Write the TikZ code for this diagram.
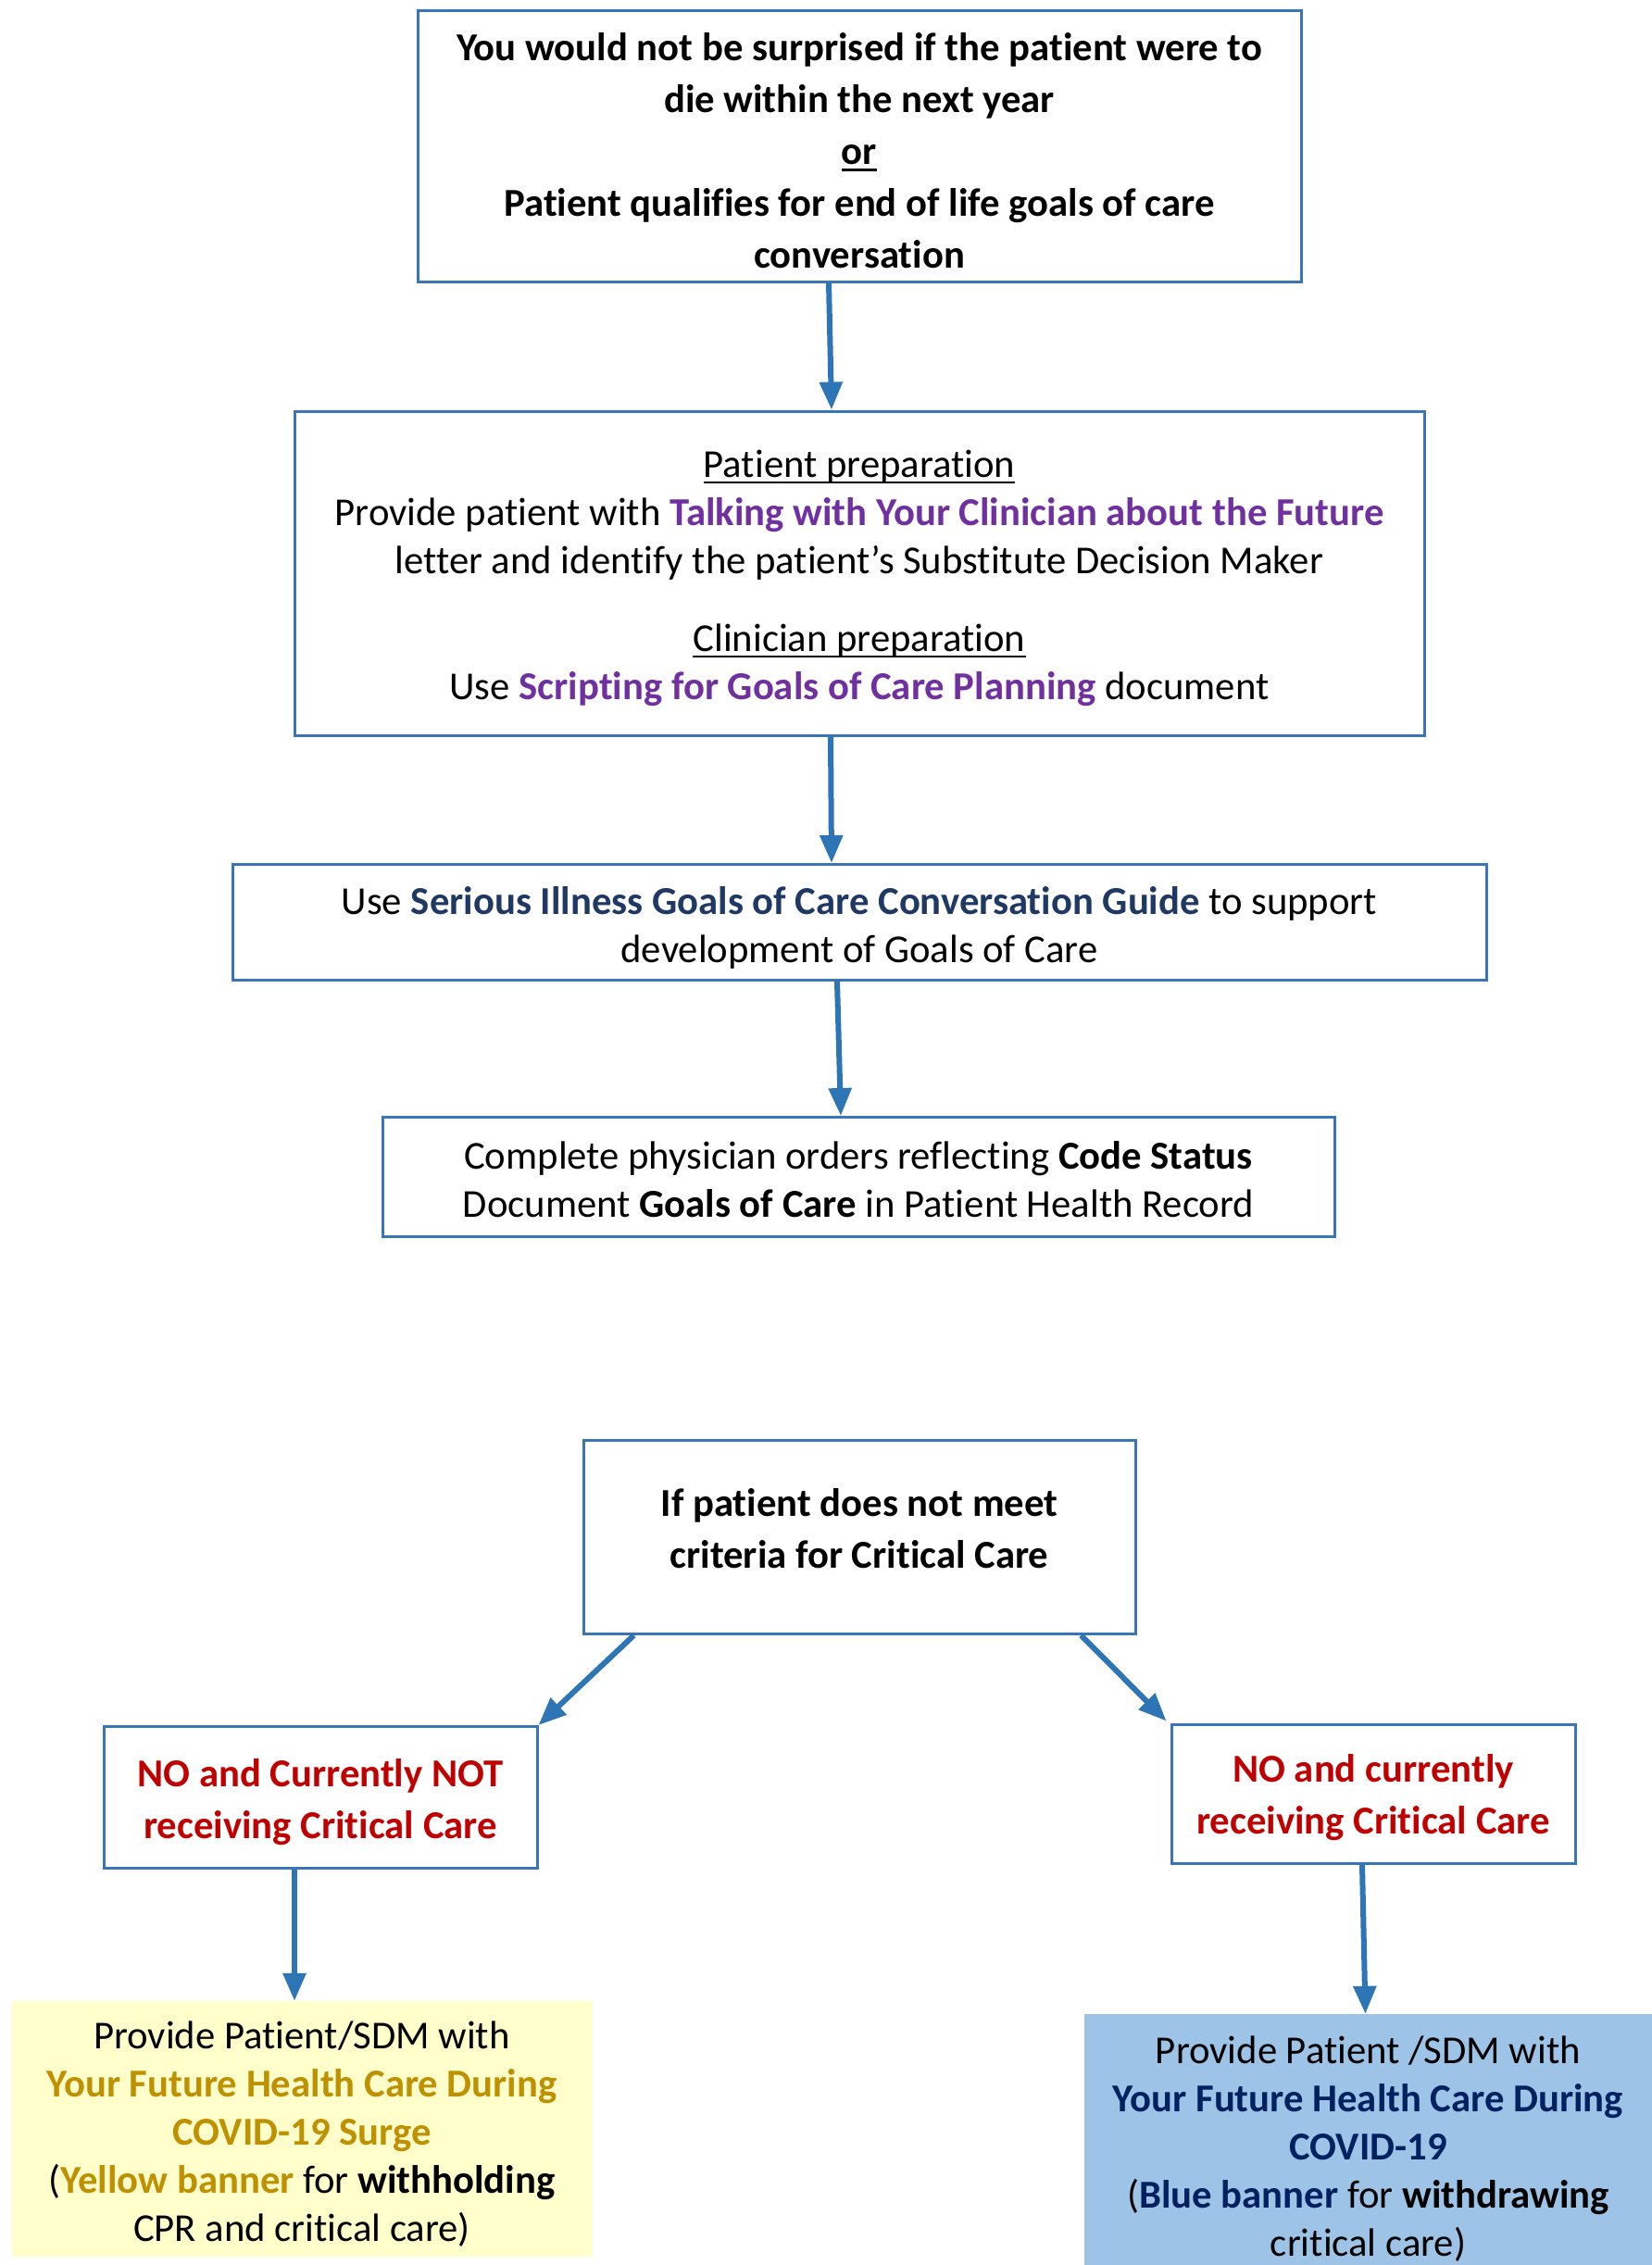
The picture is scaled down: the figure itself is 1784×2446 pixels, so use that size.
\documentclass[tikz,border=0pt]{standalone}
\usepackage{fontspec}
\setmainfont{Carlito}[Ligatures={NoCommon,NoContextual}]
\usetikzlibrary{arrows.meta}
\definecolor{bordblue}{HTML}{3A75B8}
\definecolor{arrblue}{HTML}{2E75B6}
\definecolor{purp}{HTML}{7030A0}
\definecolor{slate}{HTML}{1F3864}
\definecolor{darkred}{HTML}{C00000}
\definecolor{gold}{HTML}{BF9000}
\definecolor{yfill}{HTML}{FFFFCC}
\definecolor{bfill}{HTML}{9DC3E6}
\definecolor{navy}{HTML}{002060}
\newcommand\myul[1]{\leavevmode\setbox0\hbox{#1}\rlap{\rule[-7pt]{\wd0}{2.5pt}}\box0}
\begin{document}
\begin{tikzpicture}[x=1pt,y=-1pt,
  box/.style={draw=bordblue,line width=3pt,inner sep=0pt},
  fillbox/.style={inner sep=0pt},
  arr/.style={draw=arrblue,line width=6pt,-{Triangle[width=24pt,length=30pt]}},
  ftop/.style={align=center,inner sep=0pt,font=\fontsize{42.7}{56}\selectfont\bfseries},
  fmid/.style={align=center,inner sep=0pt,font=\fontsize{42.7}{52}\selectfont},
  fbot/.style={align=center,inner sep=0pt,font=\fontsize{42.7}{56}\selectfont\bfseries},
  fban/.style={align=center,inner sep=0pt,font=\fontsize{42.7}{52}\selectfont}]
\useasboundingbox (0,0) rectangle (1784,2446);
\node[box,minimum width=954pt,minimum height=292pt,
  label={[ftop,yshift=-5pt]center:{You would not be surprised if the patient were to\\
  die within the next year\\
  \myul{or}\\
  Patient qualifies for end of life goals of care\\
  conversation}}] (b1) at (928,158) {};
\node[box,minimum width=1220pt,minimum height=350pt,
  label={[fmid,yshift=-5pt]center:{\myul{Patient preparation}\\
  Provide patient with {\bfseries\color{purp}Talking with Your Clinician about the Future}\\
  letter and identify the patient’s Substitute Decision Maker\\[32pt]
  \myul{Clinician preparation}\\
  Use {\bfseries\color{purp}Scripting for Goals of Care Planning} document}}] (b2) at (928,619) {};
\node[box,minimum width=1354pt,minimum height=125pt,
  label={[fmid,yshift=-6pt]center:{Use {\bfseries\color{slate}Serious Illness Goals of Care Conversation Guide} to support\\
  development of Goals of Care}}] (b3) at (928,996) {};
\node[box,minimum width=1028pt,minimum height=129pt,
  label={[fmid,yshift=-3pt]center:{Complete physician orders reflecting \textbf{Code Status}\\
  Document \textbf{Goals of Care} in Patient Health Record}}] (b4) at (927,1271) {};
\node[box,minimum width=596pt,minimum height=209pt,
  label={[fbot,yshift=9pt]center:{If patient does not meet\\criteria for Critical Care}}] (b5) at (928,1660) {};
\node[box,minimum width=468pt,minimum height=153pt,
  label={[fbot,text=darkred,yshift=-5pt]center:{NO and Currently NOT\\receiving Critical Care}}] (b6) at (346,1941) {};
\node[box,minimum width=436pt,minimum height=150pt,
  label={[fbot,text=darkred,yshift=-4pt]center:{NO and currently\\receiving Critical Care}}] (b7) at (1483,1937) {};
\node[fillbox,fill=yfill,minimum width=627pt,minimum height=276pt,
  label={[fban,yshift=-6pt]center:{Provide Patient/SDM with\\
  {\bfseries\color{gold}Your Future Health Care During}\\
  {\bfseries\color{gold}COVID-19 Surge}\\
  ({\bfseries\color{gold}Yellow banner} for \textbf{withholding}\\
  CPR and critical care)}}] (y) at (326,2299) {};
\node[fillbox,fill=bfill,minimum width=613pt,minimum height=271pt,
  label={[fban,yshift=-10pt]center:{Provide Patient /SDM with\\
  {\bfseries\color{navy}Your Future Health Care During}\\
  {\bfseries\color{navy}COVID-19}\\
  ({\bfseries\color{navy}Blue banner} for \textbf{withdrawing}\\
  critical care)}}] (bl) at (1477.5,2310.5) {};
\draw[arr] ([xshift=-33pt]b1.south) -- ([xshift=-30pt]b2.north);
\draw[arr] ([xshift=-31pt]b2.south) -- ([xshift=-30pt]b3.north);
\draw[arr] ([xshift=-24pt]b3.south) -- ([xshift=-19pt]b4.north);
\draw[arr] ([xshift=56pt]b5.south west) -- (b6.north east);
\draw[arr] ([xshift=-60pt]b5.south east) -- ([xshift=-4pt,yshift=2pt]b7.north west);
\draw[arr] ([xshift=-28pt]b6.south) -- ([xshift=-8pt]y.north);
\draw[arr] ([xshift=-12pt]b7.south) -- ([xshift=-3pt]bl.north);
\end{tikzpicture}
\end{document}
